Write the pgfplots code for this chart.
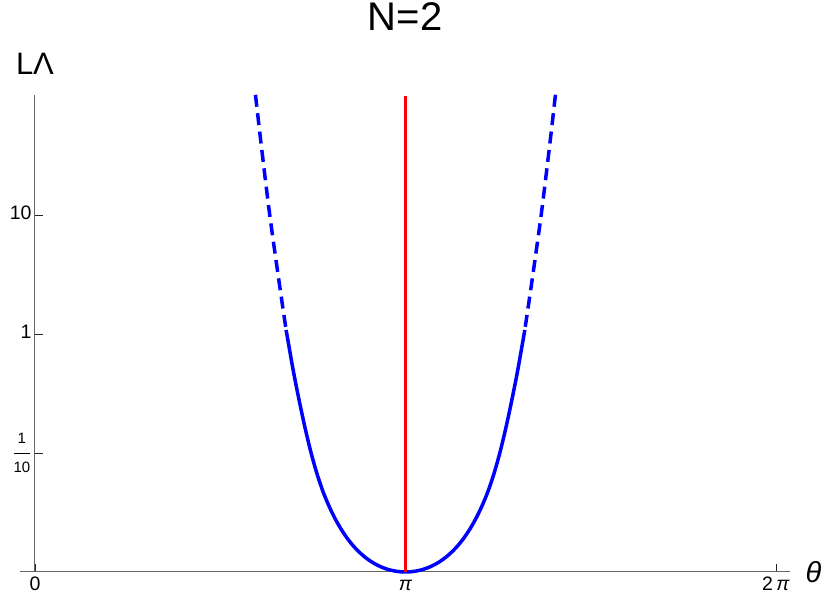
\documentclass[border=0pt]{standalone}
\usepackage{fontspec}
\setmainfont{Liberation Sans}
\usepackage{pgfplots}
\pgfplotsset{compat=1.18}
\begin{document}
\begin{tikzpicture}
\useasboundingbox (-20pt,-28pt) rectangle (811pt,572pt);
\begin{axis}[
 at={(0pt,0pt)}, anchor=south west,
 scale only axis, width=770.2pt, height=477.2pt,
 xmin=-0.127, xmax=6.404, ymin=0, ymax=4.01,
 axis lines=middle,
 axis line style={-, draw=black!60, line width=1pt},
 hide obscured x ticks=false, hide obscured y ticks=false,
 tick align=inside, major tick length=8pt,
 tick style={black!85, line width=0.8pt},
 xtick={0,3.14159,6.28318},
 xticklabels={0,\textit{π},2\,\textit{π}},
 ytick={1,2,3},
 yticklabels={\raisebox{-4pt}{$\displaystyle\frac{\mbox{\fontsize{15}{15}\selectfont 1}}{\mbox{\fontsize{15}{15}\selectfont 10}}$},1,10},
 typeset ticklabels with strut,
 ticklabel style={font=\fontsize{19.5}{22}\selectfont},
 title={N=2},
 title style={at={(0.5,1)}, anchor=base, yshift=58pt, font=\fontsize{40}{44}\selectfont},
 xlabel={\textit{θ}},
 xlabel style={at={(rel axis cs:1,0)}, anchor=west, xshift=12pt, font=\fontsize{29}{32}\selectfont},
 clip=false,
]
% left dashed branch
\addplot[blue, line width=3.5pt, smooth, dash pattern=on 12pt off 6.5pt] coordinates {
 (1.8696,4.01) (1.9206,3.571) (1.9886,3.017) (2.0676,2.454) (2.1296,2.034)
};
% right dashed branch
\addplot[blue, line width=3.5pt, smooth, dash pattern=on 12pt off 6.5pt] coordinates {
 (4.4136,4.01) (4.3626,3.571) (4.2946,3.017) (4.2156,2.454) (4.1536,2.034)
};
% solid part
\addplot[blue, line width=3.5pt, smooth] coordinates {
 (2.1296,2.034) (2.1416,1.965) (2.1916,1.685) (2.2416,1.435) (2.2916,1.205)
 (2.3416,1.0) (2.3916,0.825) (2.4416,0.6776) (2.4916,0.5573) (2.5416,0.4546)
 (2.5916,0.3667) (2.6416,0.2917) (2.6916,0.2280) (2.7416,0.1749) (2.7916,0.1302)
 (2.8416,0.0934) (2.8916,0.0636) (2.9416,0.0400) (2.9916,0.0222) (3.0416,0.0098)
 (3.0916,0.0024) (3.1416,0)
 (3.1916,0.0024) (3.2416,0.0098) (3.2916,0.0222) (3.3416,0.0400) (3.3916,0.0636)
 (3.4416,0.0934) (3.4916,0.1302) (3.5416,0.1749) (3.5916,0.2280) (3.6416,0.2917)
 (3.6916,0.3667) (3.7416,0.4546) (3.7916,0.5573) (3.8416,0.6776) (3.8916,0.825)
 (3.9416,1.0) (3.9916,1.205) (4.0416,1.435) (4.0916,1.685) (4.1416,1.965)
 (4.1536,2.034)
};
% red vertical line
\addplot[red, line width=3.3pt] coordinates {(3.14159,0) (3.14159,4.0)};
\node[anchor=base, font=\fontsize{31}{34}\selectfont] at (axis cs:0,4.01) [yshift=20pt] {LΛ};
\end{axis}
\end{tikzpicture}
\end{document}
